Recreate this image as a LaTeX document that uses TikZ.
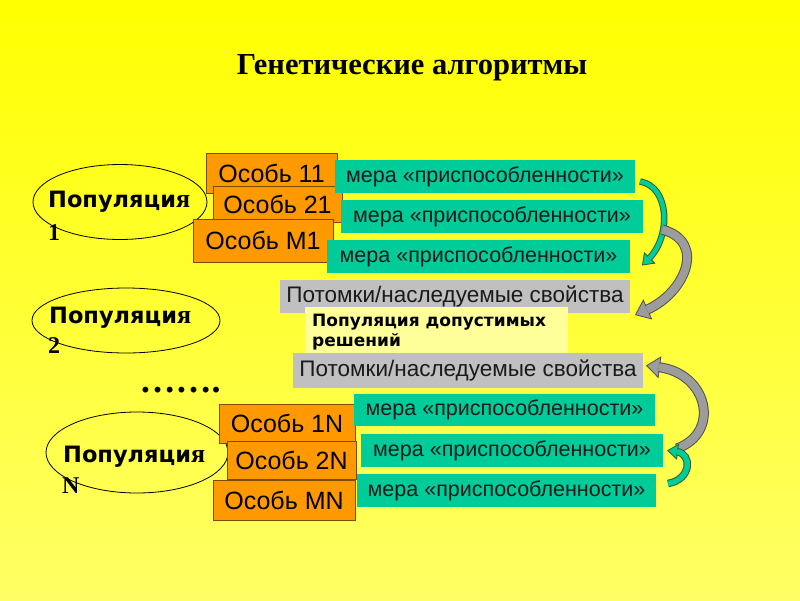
\documentclass[tikz,border=0pt]{standalone}
\usepackage{fontspec}
\setmainfont{Liberation Serif}
\setsansfont{Liberation Sans}
\newfontfamily\wideb{DejaVu Sans}
\usetikzlibrary{arrows.meta,shapes.geometric}
\definecolor{bgtop}{HTML}{FFFF00}
\definecolor{bgbot}{HTML}{FFFF66}
\definecolor{orng}{HTML}{FF9900}
\definecolor{orngdk}{HTML}{7A4A00}
\definecolor{tealbox}{HTML}{00CC99}
\definecolor{gry}{HTML}{C0C0C0}
\definecolor{lyel}{HTML}{FFFF99}
\definecolor{txtdk}{HTML}{1A1A1A}
\definecolor{arrgreen}{HTML}{00CC99}
\definecolor{arrgreendk}{HTML}{2E5E2E}
\definecolor{arrgray}{HTML}{9C9C9C}
\definecolor{arrgraydk}{HTML}{505050}
\newcommand\serifya{{\rmfamily\bfseries\fontsize{26}{28}\selectfont я}}
\tikzset{
  box/.style={rectangle, inner sep=0pt, outer sep=0pt},
  osob/.style={box, fill=orng, draw=orngdk, line width=0.8pt, font=\sffamily\fontsize{25}{27}\selectfont},
  mera/.style={box, fill=tealbox, text=txtdk, font=\sffamily\fontsize{21.5}{23}\selectfont},
  potom/.style={box, fill=gry, text=txtdk, font=\sffamily\fontsize{22.5}{24}\selectfont},
  popell/.style={ellipse, draw=black, line width=0.8pt, inner sep=0pt},
  poptext/.style={inner sep=0pt, font=\wideb\bfseries\fontsize{22.5}{24}\selectfont},
  numtext/.style={inner sep=0pt, font=\rmfamily\bfseries\fontsize{24}{26}\selectfont},
}
\newcommand\blkarrow[8]{%
  \draw[line width=0.8pt, draw=#2, -{Triangle[length=#5,width=#6,fill=#1]}] #8;
  \draw[line width=#3, draw=#2, shorten >=#7] #8;
  \draw[line width=#4, draw=#1, shorten >=#7] #8;
}
\begin{document}
\begin{tikzpicture}[x=1pt,y=-1pt]
\useasboundingbox (0,0) rectangle (800,600);
\shade[top color=bgtop, bottom color=bgbot] (0,0) rectangle (800,600);

\node[anchor=base, inner sep=0pt, font=\rmfamily\bfseries\fontsize{30.5}{32}\selectfont] (title) at (412,74) {Генетические алгоритмы};

% populations
\node[popell, minimum width=174pt, minimum height=75pt] (e1) at (120,202) {};
\node[popell, minimum width=188pt, minimum height=65pt] (e2) at (126,320.5) {};
\node[popell, minimum width=182pt, minimum height=81pt] (eN) at (137,452.5) {};
\node[poptext, anchor=base west] (t1) at (48,207) {Популяци\serifya};
\node[numtext, anchor=base west] (n1) at (48,240) {1};
\node[poptext, anchor=base west] (t2) at (49,323) {Популяци\serifya};
\node[numtext, anchor=base west] (n2) at (48,353) {2};
\node[poptext, anchor=base west] (tN) at (63,462) {Популяци\serifya};
\node[numtext, anchor=base west] (nN) at (62,493) {N};

\node[anchor=base, inner sep=0pt, font=\rmfamily\bfseries\fontsize{36}{38}\selectfont] (dots) at (180,392) {…….};

% individuals
\node[osob, minimum width=131pt, minimum height=40pt] (o11) at (271.5,173) {Особь 11};
\node[osob, minimum width=129pt, minimum height=36pt] (o21) at (277.5,204) {Особь 21};
\node[osob, minimum width=140pt, minimum height=43pt] (oM1) at (263,240.5) {Особь M1};
\node[osob, minimum width=136pt, minimum height=39pt] (o1N) at (287,423.5) {Особь 1N};
\node[osob, minimum width=129pt, minimum height=38pt] (o2N) at (291.5,460) {Особь 2N};
\node[osob, minimum width=142pt, minimum height=40pt] (oMN) at (284,500) {Особь MN};

% fitness
\node[mera, minimum width=300pt, minimum height=33pt] (m11) at (485,176.5) {мера «приспособленности»};
\node[mera, minimum width=302pt, minimum height=33pt] (m12) at (492,216.5) {мера «приспособленности»};
\node[mera, minimum width=303pt, minimum height=33pt] (m13) at (478.5,256.5) {мера «приспособленности»};
\node[mera, minimum width=301pt, minimum height=32pt] (m1n) at (504.5,410) {мера «приспособленности»};
\node[mera, minimum width=302pt, minimum height=33pt] (m2n) at (512,450.5) {мера «приспособленности»};
\node[mera, minimum width=299pt, minimum height=33pt] (m3n) at (506.5,490.5) {мера «приспособленности»};

% offspring
\node[potom, minimum width=350pt, minimum height=33pt] (p1) at (455,296.5) {Потомки/наследуемые свойства};
\node[box, fill=lyel, minimum width=263pt, minimum height=46pt] (sol) at (436.5,330) {};
\node[anchor=base west, inner sep=0pt, align=left, font=\wideb\bfseries\fontsize{17}{20}\selectfont] (solt) at (312,346) {Популяция допустимых\\решений};
\node[potom, minimum width=350pt, minimum height=35pt] (p2) at (468,370.5) {Потомки/наследуемые свойства};

% curved block arrows
\blkarrow{arrgreen}{arrgreendk}{6.5pt}{4.5pt}{11pt}{16pt}{10pt}{([shift={(5,5)}]m11.east) .. controls +(30,5) and +(29,-29) .. ([shift={(12,9)}]m13.east)}
\blkarrow{arrgray}{arrgraydk}{10pt}{8pt}{14pt}{22pt}{13pt}{([shift={(19,13)}]m12.east) .. controls +(45,12) and +(50,-22) .. ([shift={(5,2)}]p1.south east)}
\blkarrow{arrgray}{arrgraydk}{10pt}{8pt}{14pt}{22pt}{13pt}{([shift={(14,-2)}]m2n.east) .. controls +(44,-16) and +(62,8) .. ([shift={(3,-5)}]p2.east)}
\blkarrow{arrgreen}{arrgreendk}{7.5pt}{5.5pt}{11pt}{16pt}{10pt}{([shift={(12,-7)}]m3n.east) .. controls +(24,-4) and +(25,3) .. ([shift={(4,0)}]m2n.east)}
\end{tikzpicture}
\end{document}
